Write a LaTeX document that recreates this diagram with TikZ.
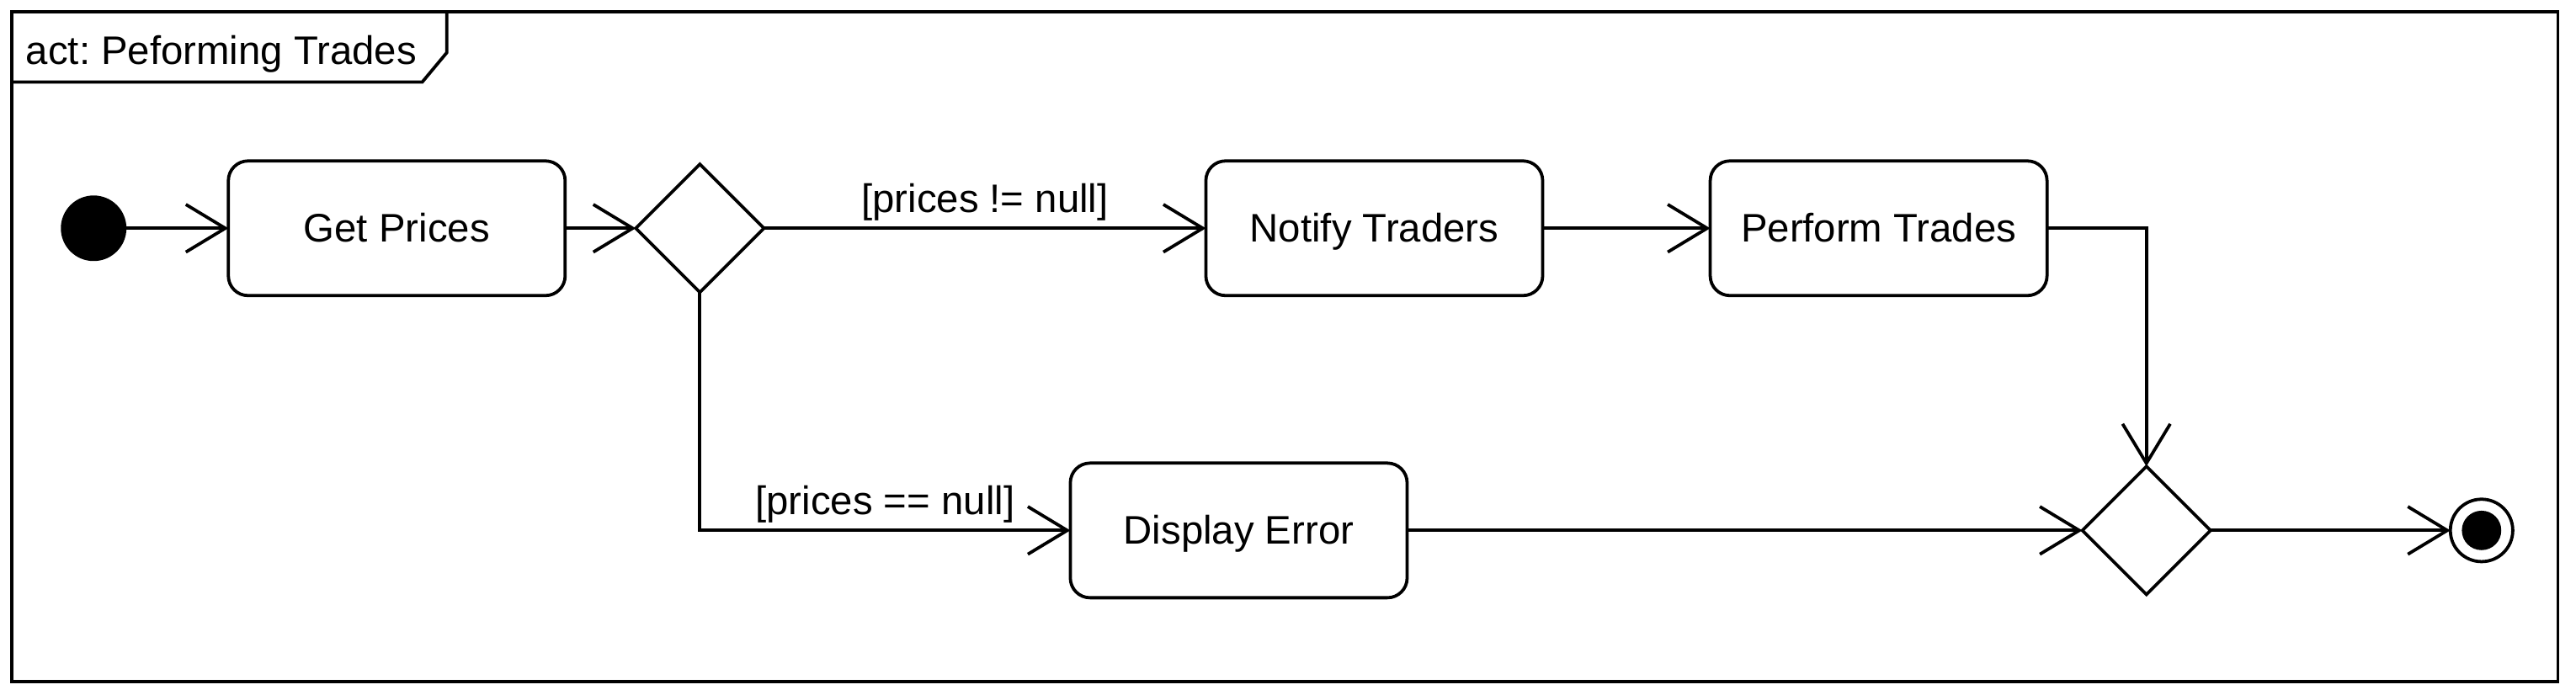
\documentclass[tikz,border=0pt]{standalone}
\usepackage{fontspec}
\setmainfont{Liberation Sans}
\usepackage{tikz}
\usetikzlibrary{shapes.geometric, arrows.meta, positioning}

\begin{document}
\begin{tikzpicture}[
        font=\fontsize{13.8}{16}\selectfont,
        line width=1.1pt,
        start_node/.style = {circle, fill=black, draw=black, minimum size=0.76cm, inner sep=0pt, outer sep=0pt},
        end_node/.style = {circle, draw=black, minimum size=0.76cm, inner sep=0pt, outer sep=0pt, path picture={\fill[black] (path picture bounding box.center) circle (0.24cm);}},
        action_node/.style = {rectangle, draw=black, fill=white, rounded corners=2.4mm, minimum width=4.1cm, minimum height=1.64cm, outer sep=0pt, text height=1.04em, text depth=0.08em, align=center},
        decision_node/.style = {diamond, draw=black, fill=white, aspect=1, minimum width=1.56cm, minimum height=1.56cm, inner sep=0pt, outer sep=0pt},
        flow/.style = {draw, -{Straight Barb[length=4.8mm, width=5.8mm]}, line join=miter},
        guard_text/.style = {font=\fontsize{13.8}{16}\selectfont, inner sep=2pt}
    ]

    % Frame
    \useasboundingbox (0,0) rectangle (31.36,-8.4);
    \draw (0.14,-0.14) rectangle (31.14,-8.3);
    \draw (0.14,-1.0) -- (5.14,-1.0) -- (5.44,-0.64) -- (5.44,-0.14);
    \node [anchor=west] at (0.18,-0.66) (title) {\frenchspacing act: Peforming Trades};

    % Upper row
    \node [start_node] at (1.14,-2.78) (init) {};
    \node [action_node, right=1.26cm of init] (get_prices) {Get Prices};
    \node [decision_node, right=0.86cm of get_prices] (check) {};
    \node [action_node, right=5.38cm of check] (notify) {Notify Traders};
    \node [action_node, right=2.04cm of notify] (perform) {Perform Trades};

    % Lower row
    \node [action_node, xshift=6.56cm, yshift=-3.68cm] at (check.center) (display) {Display Error};
    \node [decision_node, right=8.22cm of display] (merge) {};
    \node [end_node, right=2.92cm of merge] (final) {};

    % Connections
    \draw [flow] (init) -- (get_prices);
    \draw [flow] (get_prices) -- (check);
    \draw [flow] (check) -- (notify) node[midway, above, guard_text] {[prices != null]};
    \draw [flow] (check.south) |- (display) node[pos=0.75, above, guard_text] {[prices == null]};
    \draw [flow] (notify) -- (perform);
    \draw [flow] (perform.east) -| (merge.north);
    \draw [flow] (display) -- (merge);
    \draw [flow] (merge) -- (final);

\end{tikzpicture}
\end{document}
